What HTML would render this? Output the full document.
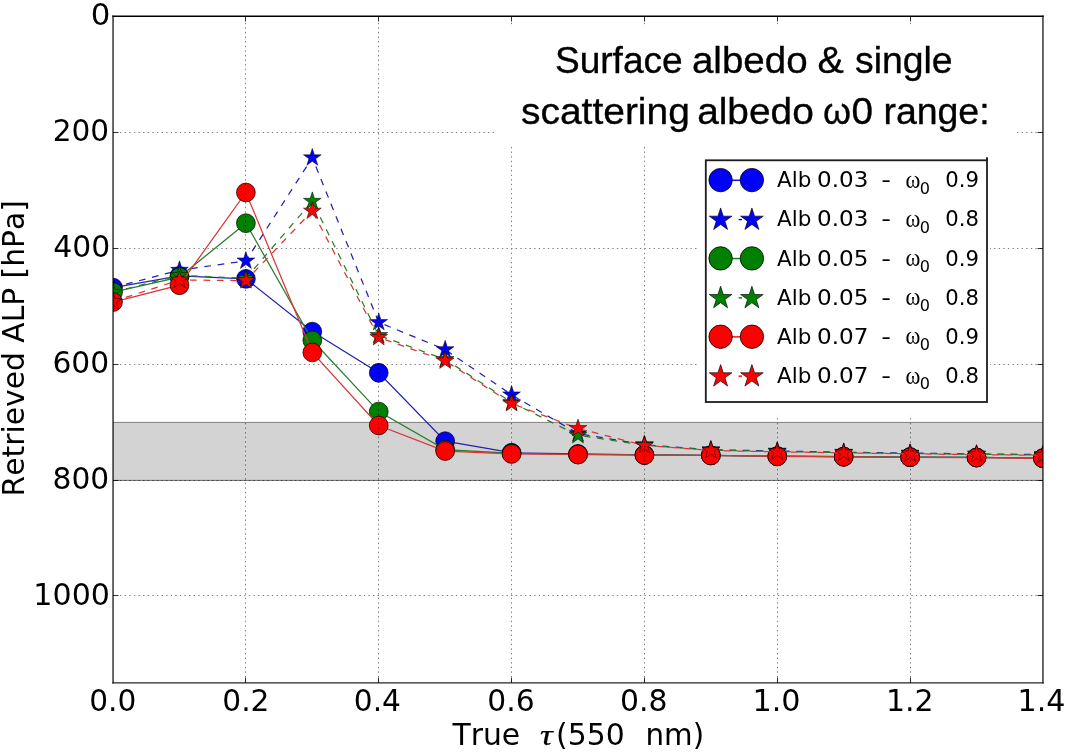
<!DOCTYPE html>
<html lang="en"><head><meta charset="utf-8"><title>Retrieved ALP vs True tau</title>
<style>
html,body{margin:0;padding:0;background:#fff;}
body{width:1066px;height:752px;overflow:hidden;}
svg{display:block;}
text{white-space:pre;font-kerning:none;}
</style></head><body>
<svg width="1066" height="752" viewBox="0 0 1066 752">
<defs><clipPath id="ax"><rect x="113.05" y="16.25" width="929.90" height="666.65"/></clipPath></defs>
<rect width="1066" height="752" fill="#fff"/>
<rect x="113.05" y="422.04" width="929.90" height="57.97" fill="#d3d3d3"/>
<line x1="113.05" y1="422.4" x2="1042.95" y2="422.4" stroke="#808080" stroke-width="1"/>
<line x1="113.05" y1="480.4" x2="1042.95" y2="480.4" stroke="#6a6a6a" stroke-width="1"/>
<g clip-path="url(#ax)">
<polyline points="113.05,287.55 179.47,275.95 245.89,278.85 312.31,331.60 378.74,372.76 445.16,441.17 511.58,452.76 578.00,453.92 644.42,454.91 710.84,455.31 777.26,456.24 843.69,456.64 910.11,457.11 976.53,457.46 1042.95,458.21" fill="none" stroke="#2222b4" stroke-width="1.25"/>
<g fill="#0000ff" stroke="#000" stroke-width="0.7"><circle cx="113.05" cy="287.55" r="9.40"/><circle cx="179.47" cy="275.95" r="9.40"/><circle cx="245.89" cy="278.85" r="9.40"/><circle cx="312.31" cy="331.60" r="9.40"/><circle cx="378.74" cy="372.76" r="9.40"/><circle cx="445.16" cy="441.17" r="9.40"/><circle cx="511.58" cy="452.76" r="9.40"/><circle cx="578.00" cy="453.92" r="9.40"/><circle cx="644.42" cy="454.91" r="9.40"/><circle cx="710.84" cy="455.31" r="9.40"/><circle cx="777.26" cy="456.24" r="9.40"/><circle cx="843.69" cy="456.64" r="9.40"/><circle cx="910.11" cy="457.11" r="9.40"/><circle cx="976.53" cy="457.46" r="9.40"/><circle cx="1042.95" cy="458.21" r="9.40"/></g>

<polyline points="113.05,287.55 179.47,270.16 245.89,260.88 312.31,157.70 378.74,322.33 445.16,349.57 511.58,394.79 578.00,433.63 644.42,444.65 710.84,449.75 777.26,451.02 843.69,452.18 910.11,453.05 976.53,453.92 1042.95,454.50" fill="none" stroke="#2222b4" stroke-width="1.25" stroke-dasharray="6.70 6.70" stroke-dashoffset="0.00"/>
<g fill="#0000ff" stroke="#000" stroke-width="0.5"><polygon points="113.05,278.25 115.14,284.67 121.89,284.67 116.43,288.65 118.52,295.07 113.05,291.10 107.58,295.07 109.67,288.65 104.21,284.67 110.96,284.67"/><polygon points="179.47,260.86 181.56,267.28 188.32,267.28 182.85,271.25 184.94,277.68 179.47,273.71 174.01,277.68 176.09,271.25 170.63,267.28 177.38,267.28"/><polygon points="245.89,251.58 247.98,258.01 254.74,258.01 249.27,261.98 251.36,268.41 245.89,264.43 240.43,268.41 242.51,261.98 237.05,258.01 243.80,258.01"/><polygon points="312.31,148.40 314.40,154.82 321.16,154.82 315.69,158.79 317.78,165.22 312.31,161.25 306.85,165.22 308.94,158.79 303.47,154.82 310.23,154.82"/><polygon points="378.74,313.03 380.82,319.46 387.58,319.46 382.11,323.43 384.20,329.85 378.74,325.88 373.27,329.85 375.36,323.43 369.89,319.46 376.65,319.46"/><polygon points="445.16,340.27 447.25,346.70 454.00,346.70 448.54,350.67 450.62,357.10 445.16,353.13 439.69,357.10 441.78,350.67 436.31,346.70 443.07,346.70"/><polygon points="511.58,385.49 513.67,391.92 520.42,391.92 514.96,395.89 517.04,402.32 511.58,398.34 506.11,402.32 508.20,395.89 502.73,391.92 509.49,391.92"/><polygon points="578.00,424.33 580.09,430.76 586.84,430.76 581.38,434.73 583.47,441.15 578.00,437.18 572.53,441.15 574.62,434.73 569.16,430.76 575.91,430.76"/><polygon points="644.42,435.35 646.51,441.77 653.27,441.77 647.80,445.74 649.89,452.17 644.42,448.20 638.96,452.17 641.04,445.74 635.58,441.77 642.33,441.77"/><polygon points="710.84,440.45 712.93,446.87 719.69,446.87 714.22,450.84 716.31,457.27 710.84,453.30 705.38,457.27 707.46,450.84 702.00,446.87 708.75,446.87"/><polygon points="777.26,441.72 779.35,448.15 786.11,448.15 780.64,452.12 782.73,458.55 777.26,454.57 771.80,458.55 773.89,452.12 768.42,448.15 775.18,448.15"/><polygon points="843.69,442.88 845.77,449.31 852.53,449.31 847.06,453.28 849.15,459.70 843.69,455.73 838.22,459.70 840.31,453.28 834.84,449.31 841.60,449.31"/><polygon points="910.11,443.75 912.20,450.18 918.95,450.18 913.49,454.15 915.57,460.57 910.11,456.60 904.64,460.57 906.73,454.15 901.26,450.18 908.02,450.18"/><polygon points="976.53,444.62 978.62,451.05 985.37,451.05 979.91,455.02 981.99,461.44 976.53,457.47 971.06,461.44 973.15,455.02 967.68,451.05 974.44,451.05"/><polygon points="1042.95,445.20 1045.04,451.63 1051.79,451.63 1046.33,455.60 1048.42,462.02 1042.95,458.05 1037.48,462.02 1039.57,455.60 1034.11,451.63 1040.86,451.63"/></g>

<polyline points="113.05,292.19 179.47,277.11 245.89,223.20 312.31,340.30 378.74,411.60 445.16,449.57 511.58,453.34 578.00,454.50 644.42,454.91 710.84,455.31 777.26,456.24 843.69,456.64 910.11,457.11 976.53,457.46 1042.95,458.21" fill="none" stroke="#2c7e2c" stroke-width="1.25"/>
<g fill="#008000" stroke="#000" stroke-width="0.7"><circle cx="113.05" cy="292.19" r="9.40"/><circle cx="179.47" cy="277.11" r="9.40"/><circle cx="245.89" cy="223.20" r="9.40"/><circle cx="312.31" cy="340.30" r="9.40"/><circle cx="378.74" cy="411.60" r="9.40"/><circle cx="445.16" cy="449.57" r="9.40"/><circle cx="511.58" cy="453.34" r="9.40"/><circle cx="578.00" cy="454.50" r="9.40"/><circle cx="644.42" cy="454.91" r="9.40"/><circle cx="710.84" cy="455.31" r="9.40"/><circle cx="777.26" cy="456.24" r="9.40"/><circle cx="843.69" cy="456.64" r="9.40"/><circle cx="910.11" cy="457.11" r="9.40"/><circle cx="976.53" cy="457.46" r="9.40"/><circle cx="1042.95" cy="458.21" r="9.40"/></g>

<polyline points="113.05,292.19 179.47,275.37 245.89,278.27 312.31,201.17 378.74,335.37 445.16,359.43 511.58,402.33 578.00,435.37 644.42,445.11 710.84,450.15 777.26,451.43 843.69,452.59 910.11,453.46 976.53,454.33 1042.95,454.91" fill="none" stroke="#2c7e2c" stroke-width="1.25" stroke-dasharray="6.70 6.70" stroke-dashoffset="0.00"/>
<g fill="#008000" stroke="#000" stroke-width="0.5"><polygon points="113.05,282.89 115.14,289.31 121.89,289.31 116.43,293.28 118.52,299.71 113.05,295.74 107.58,299.71 109.67,293.28 104.21,289.31 110.96,289.31"/><polygon points="179.47,266.07 181.56,272.50 188.32,272.50 182.85,276.47 184.94,282.90 179.47,278.93 174.01,282.90 176.09,276.47 170.63,272.50 177.38,272.50"/><polygon points="245.89,268.97 247.98,275.40 254.74,275.40 249.27,279.37 251.36,285.80 245.89,281.82 240.43,285.80 242.51,279.37 237.05,275.40 243.80,275.40"/><polygon points="312.31,191.87 314.40,198.30 321.16,198.30 315.69,202.27 317.78,208.70 312.31,204.73 306.85,208.70 308.94,202.27 303.47,198.30 310.23,198.30"/><polygon points="378.74,326.07 380.82,332.50 387.58,332.50 382.11,336.47 384.20,342.90 378.74,338.92 373.27,342.90 375.36,336.47 369.89,332.50 376.65,332.50"/><polygon points="445.16,350.13 447.25,356.56 454.00,356.56 448.54,360.53 450.62,366.95 445.16,362.98 439.69,366.95 441.78,360.53 436.31,356.56 443.07,356.56"/><polygon points="511.58,393.03 513.67,399.45 520.42,399.45 514.96,403.43 517.04,409.85 511.58,405.88 506.11,409.85 508.20,403.43 502.73,399.45 509.49,399.45"/><polygon points="578.00,426.07 580.09,432.50 586.84,432.50 581.38,436.47 583.47,442.89 578.00,438.92 572.53,442.89 574.62,436.47 569.16,432.50 575.91,432.50"/><polygon points="644.42,435.81 646.51,442.23 653.27,442.23 647.80,446.21 649.89,452.63 644.42,448.66 638.96,452.63 641.04,446.21 635.58,442.23 642.33,442.23"/><polygon points="710.84,440.85 712.93,447.28 719.69,447.28 714.22,451.25 716.31,457.68 710.84,453.70 705.38,457.68 707.46,451.25 702.00,447.28 708.75,447.28"/><polygon points="777.26,442.13 779.35,448.55 786.11,448.55 780.64,452.53 782.73,458.95 777.26,454.98 771.80,458.95 773.89,452.53 768.42,448.55 775.18,448.55"/><polygon points="843.69,443.29 845.77,449.71 852.53,449.71 847.06,453.68 849.15,460.11 843.69,456.14 838.22,460.11 840.31,453.68 834.84,449.71 841.60,449.71"/><polygon points="910.11,444.16 912.20,450.58 918.95,450.58 913.49,454.55 915.57,460.98 910.11,457.01 904.64,460.98 906.73,454.55 901.26,450.58 908.02,450.58"/><polygon points="976.53,445.03 978.62,451.45 985.37,451.45 979.91,455.42 981.99,461.85 976.53,457.88 971.06,461.85 973.15,455.42 967.68,451.45 974.44,451.45"/><polygon points="1042.95,445.61 1045.04,452.03 1051.79,452.03 1046.33,456.00 1048.42,462.43 1042.95,458.46 1037.48,462.43 1039.57,456.00 1034.11,452.03 1040.86,452.03"/></g>

<polyline points="113.05,302.04 179.47,285.23 245.89,192.48 312.31,352.47 378.74,425.52 445.16,451.02 511.58,453.92 578.00,454.50 644.42,455.08 710.84,455.49 777.26,456.41 843.69,456.82 910.11,457.28 976.53,457.63 1042.95,458.38" fill="none" stroke="#d93636" stroke-width="1.25"/>
<g fill="#ff0000" stroke="#000" stroke-width="0.7"><circle cx="113.05" cy="302.04" r="9.40"/><circle cx="179.47" cy="285.23" r="9.40"/><circle cx="245.89" cy="192.48" r="9.40"/><circle cx="312.31" cy="352.47" r="9.40"/><circle cx="378.74" cy="425.52" r="9.40"/><circle cx="445.16" cy="451.02" r="9.40"/><circle cx="511.58" cy="453.92" r="9.40"/><circle cx="578.00" cy="454.50" r="9.40"/><circle cx="644.42" cy="455.08" r="9.40"/><circle cx="710.84" cy="455.49" r="9.40"/><circle cx="777.26" cy="456.41" r="9.40"/><circle cx="843.69" cy="456.82" r="9.40"/><circle cx="910.11" cy="457.28" r="9.40"/><circle cx="976.53" cy="457.63" r="9.40"/><circle cx="1042.95" cy="458.38" r="9.40"/></g>

<polyline points="113.05,301.46 179.47,280.01 245.89,280.59 312.31,211.03" fill="none" stroke="#d93636" stroke-width="1.25" stroke-dasharray="6.70 6.70" stroke-dashoffset="0.00"/>
<polyline points="312.31,211.03 378.74,337.40 445.16,360.88 511.58,403.49 578.00,428.41 644.42,445.51 710.84,450.50 777.26,451.78 843.69,452.93 910.11,453.80 976.53,454.67 1042.95,455.25" fill="none" stroke="#d93636" stroke-width="1.25" stroke-dasharray="6.70 6.70" stroke-dashoffset="11.30"/>
<g fill="#ff0000" stroke="#000" stroke-width="0.5"><polygon points="113.05,292.16 115.14,298.59 121.89,298.59 116.43,302.56 118.52,308.98 113.05,305.01 107.58,308.98 109.67,302.56 104.21,298.59 110.96,298.59"/><polygon points="179.47,270.71 181.56,277.14 188.32,277.14 182.85,281.11 184.94,287.54 179.47,283.56 174.01,287.54 176.09,281.11 170.63,277.14 177.38,277.14"/><polygon points="245.89,271.29 247.98,277.72 254.74,277.72 249.27,281.69 251.36,288.12 245.89,284.14 240.43,288.12 242.51,281.69 237.05,277.72 243.80,277.72"/><polygon points="312.31,201.73 314.40,208.15 321.16,208.15 315.69,212.13 317.78,218.55 312.31,214.58 306.85,218.55 308.94,212.13 303.47,208.15 310.23,208.15"/><polygon points="378.74,328.10 380.82,334.53 387.58,334.53 382.11,338.50 384.20,344.93 378.74,340.95 373.27,344.93 375.36,338.50 369.89,334.53 376.65,334.53"/><polygon points="445.16,351.58 447.25,358.01 454.00,358.01 448.54,361.98 450.62,368.40 445.16,364.43 439.69,368.40 441.78,361.98 436.31,358.01 443.07,358.01"/><polygon points="511.58,394.19 513.67,400.61 520.42,400.61 514.96,404.58 517.04,411.01 511.58,407.04 506.11,411.01 508.20,404.58 502.73,400.61 509.49,400.61"/><polygon points="578.00,419.11 580.09,425.54 586.84,425.54 581.38,429.51 583.47,435.94 578.00,431.97 572.53,435.94 574.62,429.51 569.16,425.54 575.91,425.54"/><polygon points="644.42,436.21 646.51,442.64 653.27,442.64 647.80,446.61 649.89,453.04 644.42,449.07 638.96,453.04 641.04,446.61 635.58,442.64 642.33,442.64"/><polygon points="710.84,441.20 712.93,447.63 719.69,447.63 714.22,451.60 716.31,458.02 710.84,454.05 705.38,458.02 707.46,451.60 702.00,447.63 708.75,447.63"/><polygon points="777.26,442.48 779.35,448.90 786.11,448.90 780.64,452.87 782.73,459.30 777.26,455.33 771.80,459.30 773.89,452.87 768.42,448.90 775.18,448.90"/><polygon points="843.69,443.63 845.77,450.06 852.53,450.06 847.06,454.03 849.15,460.46 843.69,456.49 838.22,460.46 840.31,454.03 834.84,450.06 841.60,450.06"/><polygon points="910.11,444.50 912.20,450.93 918.95,450.93 913.49,454.90 915.57,461.33 910.11,457.36 904.64,461.33 906.73,454.90 901.26,450.93 908.02,450.93"/><polygon points="976.53,445.37 978.62,451.80 985.37,451.80 979.91,455.77 981.99,462.20 976.53,458.23 971.06,462.20 973.15,455.77 967.68,451.80 974.44,451.80"/><polygon points="1042.95,445.95 1045.04,452.38 1051.79,452.38 1046.33,456.35 1048.42,462.78 1042.95,458.81 1037.48,462.78 1039.57,456.35 1034.11,452.38 1040.86,452.38"/></g>

</g>
<g stroke="#000" stroke-width="1" stroke-dasharray="1.4 3.2" opacity="0.5"><line x1="245.50" y1="22.75" x2="245.50" y2="682.90"/><line x1="378.50" y1="22.75" x2="378.50" y2="682.90"/><line x1="511.50" y1="22.75" x2="511.50" y2="682.90"/><line x1="644.50" y1="22.75" x2="644.50" y2="682.90"/><line x1="777.50" y1="22.75" x2="777.50" y2="682.90"/><line x1="910.50" y1="22.75" x2="910.50" y2="682.90"/><line x1="120.05" y1="132.50" x2="1042.95" y2="132.50"/><line x1="120.05" y1="248.50" x2="1042.95" y2="248.50"/><line x1="120.05" y1="364.50" x2="1042.95" y2="364.50"/><line x1="120.05" y1="480.50" x2="1042.95" y2="480.50"/><line x1="120.05" y1="595.50" x2="1042.95" y2="595.50"/></g>
<g stroke="#000" stroke-width="1" opacity="0.8"><line x1="245.50" y1="16.25" x2="245.50" y2="21.55"/><line x1="245.50" y1="682.90" x2="245.50" y2="677.60"/><line x1="378.50" y1="16.25" x2="378.50" y2="21.55"/><line x1="378.50" y1="682.90" x2="378.50" y2="677.60"/><line x1="511.50" y1="16.25" x2="511.50" y2="21.55"/><line x1="511.50" y1="682.90" x2="511.50" y2="677.60"/><line x1="644.50" y1="16.25" x2="644.50" y2="21.55"/><line x1="644.50" y1="682.90" x2="644.50" y2="677.60"/><line x1="777.50" y1="16.25" x2="777.50" y2="21.55"/><line x1="777.50" y1="682.90" x2="777.50" y2="677.60"/><line x1="910.50" y1="16.25" x2="910.50" y2="21.55"/><line x1="910.50" y1="682.90" x2="910.50" y2="677.60"/><line x1="113.05" y1="132.50" x2="118.45" y2="132.50"/><line x1="1042.95" y1="132.50" x2="1037.55" y2="132.50"/><line x1="113.05" y1="248.50" x2="118.45" y2="248.50"/><line x1="1042.95" y1="248.50" x2="1037.55" y2="248.50"/><line x1="113.05" y1="364.50" x2="118.45" y2="364.50"/><line x1="1042.95" y1="364.50" x2="1037.55" y2="364.50"/><line x1="113.05" y1="480.50" x2="118.45" y2="480.50"/><line x1="1042.95" y1="480.50" x2="1037.55" y2="480.50"/><line x1="113.05" y1="595.50" x2="118.45" y2="595.50"/><line x1="1042.95" y1="595.50" x2="1037.55" y2="595.50"/></g>
<g stroke="#000" stroke-width="1.4" fill="none" stroke-linecap="square"><line x1="113.05" y1="16.25" x2="1042.95" y2="16.25" stroke-width="1.35"/><line x1="113.05" y1="682.90" x2="1042.95" y2="682.90" opacity="0.85"/><line x1="113.05" y1="16.25" x2="113.05" y2="682.90" opacity="0.85"/><line x1="1042.95" y1="16.25" x2="1042.95" y2="682.90" opacity="0.85"/></g>
<g fill="#000"><text><tspan x="89.20" y="710.50" textLength="47.12" lengthAdjust="spacingAndGlyphs" font-family="'DejaVu Sans', 'Liberation Sans', sans-serif" font-size="29.30">0.0</tspan></text><text><tspan x="222.29" y="710.50" textLength="47.23" lengthAdjust="spacingAndGlyphs" font-family="'DejaVu Sans', 'Liberation Sans', sans-serif" font-size="29.30">0.2</tspan></text><text><tspan x="353.80" y="710.50" textLength="47.12" lengthAdjust="spacingAndGlyphs" font-family="'DejaVu Sans', 'Liberation Sans', sans-serif" font-size="29.30">0.4</tspan></text><text><tspan x="487.29" y="710.50" textLength="47.34" lengthAdjust="spacingAndGlyphs" font-family="'DejaVu Sans', 'Liberation Sans', sans-serif" font-size="29.30">0.6</tspan></text><text><tspan x="619.98" y="710.50" textLength="47.51" lengthAdjust="spacingAndGlyphs" font-family="'DejaVu Sans', 'Liberation Sans', sans-serif" font-size="29.30">0.8</tspan></text><text><tspan x="752.42" y="710.50" textLength="48.14" lengthAdjust="spacingAndGlyphs" font-family="'DejaVu Sans', 'Liberation Sans', sans-serif" font-size="29.30">1.0</tspan></text><text><tspan x="885.95" y="710.50" textLength="47.70" lengthAdjust="spacingAndGlyphs" font-family="'DejaVu Sans', 'Liberation Sans', sans-serif" font-size="29.30">1.2</tspan></text><text><tspan x="1017.64" y="710.50" textLength="47.84" lengthAdjust="spacingAndGlyphs" font-family="'DejaVu Sans', 'Liberation Sans', sans-serif" font-size="29.30">1.4</tspan></text><text><tspan x="90.88" y="25.10" textLength="19.62" lengthAdjust="spacingAndGlyphs" font-family="'DejaVu Sans', 'Liberation Sans', sans-serif" font-size="29.30">0</tspan></text><text><tspan x="52.68" y="140.50" textLength="56.54" lengthAdjust="spacingAndGlyphs" font-family="'DejaVu Sans', 'Liberation Sans', sans-serif" font-size="29.30">200</tspan></text><text><tspan x="53.19" y="256.50" textLength="56.94" lengthAdjust="spacingAndGlyphs" font-family="'DejaVu Sans', 'Liberation Sans', sans-serif" font-size="29.30">400</tspan></text><text><tspan x="52.43" y="372.50" textLength="56.79" lengthAdjust="spacingAndGlyphs" font-family="'DejaVu Sans', 'Liberation Sans', sans-serif" font-size="29.30">600</tspan></text><text><tspan x="52.49" y="489.20" textLength="56.73" lengthAdjust="spacingAndGlyphs" font-family="'DejaVu Sans', 'Liberation Sans', sans-serif" font-size="29.30">800</tspan></text><text><tspan x="33.34" y="605.20" textLength="76.61" lengthAdjust="spacingAndGlyphs" font-family="'DejaVu Sans', 'Liberation Sans', sans-serif" font-size="29.30">1000</tspan></text></g>
<g fill="#000"><text><tspan x="452.49" y="744.70" textLength="67.70" lengthAdjust="spacingAndGlyphs" font-family="'DejaVu Sans', 'Liberation Sans', sans-serif" font-size="29.30">True</tspan>  <tspan x="540.11" y="744.80" textLength="12.80" lengthAdjust="spacingAndGlyphs" font-family="'Liberation Serif', serif" font-size="28.60" font-style="italic" stroke="#000" stroke-width="0.25">τ</tspan><tspan x="556.13" y="744.70" textLength="68.65" lengthAdjust="spacingAndGlyphs" font-family="'DejaVu Sans', 'Liberation Sans', sans-serif" font-size="29.30">(550</tspan>  <tspan x="645.54" y="744.70" textLength="58.58" lengthAdjust="spacingAndGlyphs" font-family="'DejaVu Sans', 'Liberation Sans', sans-serif" font-size="29.30">nm)</tspan></text><text transform="translate(23.90,496.42) rotate(-90)" textLength="296.28" lengthAdjust="spacingAndGlyphs" font-family="'DejaVu Sans', 'Liberation Sans', sans-serif" font-size="29.3">Retrieved ALP [hPa]</text></g>
<rect x="494" y="26" width="522" height="118.5" fill="#fff"/>
<g fill="#000" stroke="#000" stroke-width="0.35"><text><tspan x="554.92" y="73.40" textLength="127.73" lengthAdjust="spacingAndGlyphs" font-family="'Liberation Sans', sans-serif" font-size="37.00">Surface</tspan> <tspan x="691.96" y="73.40" textLength="115.65" lengthAdjust="spacingAndGlyphs" font-family="'Liberation Sans', sans-serif" font-size="37.00">albedo</tspan> <tspan x="817.41" y="73.40" textLength="26.30" lengthAdjust="spacingAndGlyphs" font-family="'Liberation Sans', sans-serif" font-size="37.00">&amp;</tspan> <tspan x="855.06" y="73.40" textLength="97.60" lengthAdjust="spacingAndGlyphs" font-family="'Liberation Sans', sans-serif" font-size="37.00">single</tspan></text><text><tspan x="521.02" y="124.00" textLength="168.79" lengthAdjust="spacingAndGlyphs" font-family="'Liberation Sans', sans-serif" font-size="37.00">scattering</tspan> <tspan x="697.15" y="124.00" textLength="116.58" lengthAdjust="spacingAndGlyphs" font-family="'Liberation Sans', sans-serif" font-size="37.00">albedo</tspan> <tspan x="823.05" y="124.00" textLength="28.03" lengthAdjust="spacingAndGlyphs" font-family="'Liberation Sans', sans-serif" font-size="37.00">ω</tspan><tspan x="851.59" y="124.00" textLength="21.52" lengthAdjust="spacingAndGlyphs" font-family="'Liberation Sans', sans-serif" font-size="37.00">0</tspan> <tspan x="883.41" y="124.00" textLength="106.21" lengthAdjust="spacingAndGlyphs" font-family="'Liberation Sans', sans-serif" font-size="37.00">range:</tspan></text></g>
<rect x="697" y="146.5" width="293" height="268.5" fill="#fff"/>
<rect x="705.8" y="160.3" width="281.2" height="241.7" fill="#fff" stroke="#1c1c1c" stroke-width="1.8"/>
<line x1="987" y1="157.3" x2="987" y2="161" stroke="#1c1c1c" stroke-width="1.9"/>
<g fill="#000"><line x1="720.60" y1="180.25" x2="751.90" y2="180.25" stroke="#0000ff" stroke-width="1.4"/><g fill="#0000ff" stroke="#000" stroke-width="0.8"><circle cx="720.60" cy="180.10" r="11.7"/><circle cx="751.90" cy="180.10" r="11.7"/></g><text><tspan x="777.03" y="187.20" textLength="34.34" lengthAdjust="spacingAndGlyphs" font-family="'DejaVu Sans', 'Liberation Sans', sans-serif" font-size="21.70">Alb</tspan> <tspan x="817.08" y="187.20" textLength="51.26" lengthAdjust="spacingAndGlyphs" font-family="'DejaVu Sans', 'Liberation Sans', sans-serif" font-size="21.70">0.03</tspan>  <tspan x="881.28" y="187.20" textLength="9.73" lengthAdjust="spacingAndGlyphs" font-family="'DejaVu Sans', 'Liberation Sans', sans-serif" font-size="21.70">-</tspan>  <tspan x="905.42" y="187.80" textLength="14.86" lengthAdjust="spacingAndGlyphs" font-family="'Liberation Serif', serif" font-size="24.20">ω</tspan><tspan x="919.74" y="193.50" textLength="10.23" lengthAdjust="spacingAndGlyphs" font-family="'DejaVu Sans', 'Liberation Sans', sans-serif" font-size="16.50">0</tspan>  <tspan x="945.20" y="187.20" textLength="33.69" lengthAdjust="spacingAndGlyphs" font-family="'DejaVu Sans', 'Liberation Sans', sans-serif" font-size="21.70">0.9</tspan></text><line x1="738.6" y1="219.55" x2="742" y2="219.55" stroke="#0000ff" stroke-width="1.4"/><g fill="#0000ff" stroke="#000" stroke-width="0.65"><polygon points="720.60,207.95 723.27,216.17 731.92,216.17 724.92,221.25 727.59,229.48 720.60,224.40 713.61,229.48 716.28,221.25 709.28,216.17 717.93,216.17"/><polygon points="751.90,207.95 754.57,216.17 763.22,216.17 756.22,221.25 758.89,229.48 751.90,224.40 744.91,229.48 747.58,221.25 740.58,216.17 749.23,216.17"/></g><text><tspan x="777.03" y="226.35" textLength="34.34" lengthAdjust="spacingAndGlyphs" font-family="'DejaVu Sans', 'Liberation Sans', sans-serif" font-size="21.70">Alb</tspan> <tspan x="817.08" y="226.35" textLength="51.26" lengthAdjust="spacingAndGlyphs" font-family="'DejaVu Sans', 'Liberation Sans', sans-serif" font-size="21.70">0.03</tspan>  <tspan x="881.28" y="226.35" textLength="9.73" lengthAdjust="spacingAndGlyphs" font-family="'DejaVu Sans', 'Liberation Sans', sans-serif" font-size="21.70">-</tspan>  <tspan x="905.42" y="226.95" textLength="14.86" lengthAdjust="spacingAndGlyphs" font-family="'Liberation Serif', serif" font-size="24.20">ω</tspan><tspan x="919.74" y="232.65" textLength="10.23" lengthAdjust="spacingAndGlyphs" font-family="'DejaVu Sans', 'Liberation Sans', sans-serif" font-size="16.50">0</tspan>  <tspan x="945.21" y="226.35" textLength="33.64" lengthAdjust="spacingAndGlyphs" font-family="'DejaVu Sans', 'Liberation Sans', sans-serif" font-size="21.70">0.8</tspan></text><line x1="720.60" y1="258.55" x2="751.90" y2="258.55" stroke="#008000" stroke-width="1.4"/><g fill="#008000" stroke="#000" stroke-width="0.8"><circle cx="720.60" cy="258.40" r="11.7"/><circle cx="751.90" cy="258.40" r="11.7"/></g><text><tspan x="777.03" y="265.50" textLength="34.34" lengthAdjust="spacingAndGlyphs" font-family="'DejaVu Sans', 'Liberation Sans', sans-serif" font-size="21.70">Alb</tspan> <tspan x="817.08" y="265.50" textLength="51.44" lengthAdjust="spacingAndGlyphs" font-family="'DejaVu Sans', 'Liberation Sans', sans-serif" font-size="21.70">0.05</tspan>  <tspan x="881.28" y="265.50" textLength="9.73" lengthAdjust="spacingAndGlyphs" font-family="'DejaVu Sans', 'Liberation Sans', sans-serif" font-size="21.70">-</tspan>  <tspan x="905.42" y="266.10" textLength="14.86" lengthAdjust="spacingAndGlyphs" font-family="'Liberation Serif', serif" font-size="24.20">ω</tspan><tspan x="919.74" y="271.80" textLength="10.23" lengthAdjust="spacingAndGlyphs" font-family="'DejaVu Sans', 'Liberation Sans', sans-serif" font-size="16.50">0</tspan>  <tspan x="945.20" y="265.50" textLength="33.69" lengthAdjust="spacingAndGlyphs" font-family="'DejaVu Sans', 'Liberation Sans', sans-serif" font-size="21.70">0.9</tspan></text><line x1="738.6" y1="297.85" x2="742" y2="297.85" stroke="#008000" stroke-width="1.4"/><g fill="#008000" stroke="#000" stroke-width="0.65"><polygon points="720.60,286.25 723.27,294.47 731.92,294.47 724.92,299.55 727.59,307.78 720.60,302.70 713.61,307.78 716.28,299.55 709.28,294.47 717.93,294.47"/><polygon points="751.90,286.25 754.57,294.47 763.22,294.47 756.22,299.55 758.89,307.78 751.90,302.70 744.91,307.78 747.58,299.55 740.58,294.47 749.23,294.47"/></g><text><tspan x="777.03" y="304.65" textLength="34.34" lengthAdjust="spacingAndGlyphs" font-family="'DejaVu Sans', 'Liberation Sans', sans-serif" font-size="21.70">Alb</tspan> <tspan x="817.08" y="304.65" textLength="51.44" lengthAdjust="spacingAndGlyphs" font-family="'DejaVu Sans', 'Liberation Sans', sans-serif" font-size="21.70">0.05</tspan>  <tspan x="881.28" y="304.65" textLength="9.73" lengthAdjust="spacingAndGlyphs" font-family="'DejaVu Sans', 'Liberation Sans', sans-serif" font-size="21.70">-</tspan>  <tspan x="905.42" y="305.25" textLength="14.86" lengthAdjust="spacingAndGlyphs" font-family="'Liberation Serif', serif" font-size="24.20">ω</tspan><tspan x="919.74" y="310.95" textLength="10.23" lengthAdjust="spacingAndGlyphs" font-family="'DejaVu Sans', 'Liberation Sans', sans-serif" font-size="16.50">0</tspan>  <tspan x="945.21" y="304.65" textLength="33.64" lengthAdjust="spacingAndGlyphs" font-family="'DejaVu Sans', 'Liberation Sans', sans-serif" font-size="21.70">0.8</tspan></text><line x1="720.60" y1="336.85" x2="751.90" y2="336.85" stroke="#ff0000" stroke-width="1.4"/><g fill="#ff0000" stroke="#000" stroke-width="0.8"><circle cx="720.60" cy="336.70" r="11.7"/><circle cx="751.90" cy="336.70" r="11.7"/></g><text><tspan x="777.03" y="343.80" textLength="34.34" lengthAdjust="spacingAndGlyphs" font-family="'DejaVu Sans', 'Liberation Sans', sans-serif" font-size="21.70">Alb</tspan> <tspan x="817.08" y="343.80" textLength="51.39" lengthAdjust="spacingAndGlyphs" font-family="'DejaVu Sans', 'Liberation Sans', sans-serif" font-size="21.70">0.07</tspan>  <tspan x="881.28" y="343.80" textLength="9.73" lengthAdjust="spacingAndGlyphs" font-family="'DejaVu Sans', 'Liberation Sans', sans-serif" font-size="21.70">-</tspan>  <tspan x="905.42" y="344.40" textLength="14.86" lengthAdjust="spacingAndGlyphs" font-family="'Liberation Serif', serif" font-size="24.20">ω</tspan><tspan x="919.74" y="350.10" textLength="10.23" lengthAdjust="spacingAndGlyphs" font-family="'DejaVu Sans', 'Liberation Sans', sans-serif" font-size="16.50">0</tspan>  <tspan x="945.20" y="343.80" textLength="33.69" lengthAdjust="spacingAndGlyphs" font-family="'DejaVu Sans', 'Liberation Sans', sans-serif" font-size="21.70">0.9</tspan></text><line x1="738.6" y1="376.15" x2="742" y2="376.15" stroke="#ff0000" stroke-width="1.4"/><g fill="#ff0000" stroke="#000" stroke-width="0.65"><polygon points="720.60,364.55 723.27,372.77 731.92,372.77 724.92,377.85 727.59,386.08 720.60,381.00 713.61,386.08 716.28,377.85 709.28,372.77 717.93,372.77"/><polygon points="751.90,364.55 754.57,372.77 763.22,372.77 756.22,377.85 758.89,386.08 751.90,381.00 744.91,386.08 747.58,377.85 740.58,372.77 749.23,372.77"/></g><text><tspan x="777.03" y="382.95" textLength="34.34" lengthAdjust="spacingAndGlyphs" font-family="'DejaVu Sans', 'Liberation Sans', sans-serif" font-size="21.70">Alb</tspan> <tspan x="817.08" y="382.95" textLength="51.39" lengthAdjust="spacingAndGlyphs" font-family="'DejaVu Sans', 'Liberation Sans', sans-serif" font-size="21.70">0.07</tspan>  <tspan x="881.28" y="382.95" textLength="9.73" lengthAdjust="spacingAndGlyphs" font-family="'DejaVu Sans', 'Liberation Sans', sans-serif" font-size="21.70">-</tspan>  <tspan x="905.42" y="383.55" textLength="14.86" lengthAdjust="spacingAndGlyphs" font-family="'Liberation Serif', serif" font-size="24.20">ω</tspan><tspan x="919.74" y="389.25" textLength="10.23" lengthAdjust="spacingAndGlyphs" font-family="'DejaVu Sans', 'Liberation Sans', sans-serif" font-size="16.50">0</tspan>  <tspan x="945.21" y="382.95" textLength="33.64" lengthAdjust="spacingAndGlyphs" font-family="'DejaVu Sans', 'Liberation Sans', sans-serif" font-size="21.70">0.8</tspan></text></g>
</svg>
</body></html>
